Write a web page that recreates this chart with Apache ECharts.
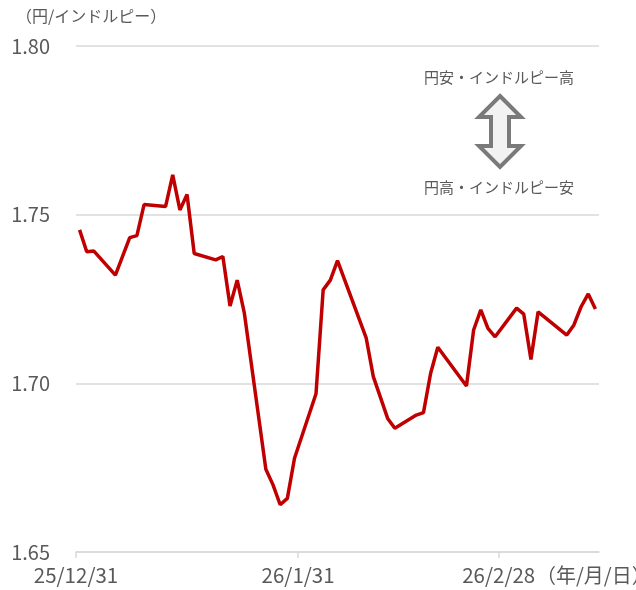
<!DOCTYPE html>
<html>
<head>
<meta charset="utf-8">
<script src="https://cdn.jsdelivr.net/npm/echarts@6/dist/echarts.min.js"></script>
<style>
  html, body { margin: 0; padding: 0; background: #fff; }
  #chart { width: 636px; height: 590px; }
</style>
</head>
<body>
<div id="chart"></div>
<script>
// 円/インドルピー 日次
const dates = [
  "2025/12/31", "2026/1/1", "2026/1/2", "2026/1/5", "2026/1/7", "2026/1/8", "2026/1/9",
  "2026/1/12", "2026/1/13", "2026/1/14", "2026/1/15", "2026/1/16",
  "2026/1/19", "2026/1/20", "2026/1/21", "2026/1/22", "2026/1/23",
  "2026/1/26", "2026/1/27", "2026/1/28", "2026/1/29", "2026/1/30",
  "2026/2/2", "2026/2/3", "2026/2/4", "2026/2/5",
  "2026/2/9", "2026/2/10", "2026/2/12", "2026/2/13",
  "2026/2/16", "2026/2/17", "2026/2/18", "2026/2/19",
  "2026/2/23", "2026/2/24", "2026/2/25", "2026/2/26", "2026/2/27",
  "2026/3/2", "2026/3/3", "2026/3/4", "2026/3/5",
  "2026/3/9", "2026/3/10", "2026/3/11", "2026/3/12", "2026/3/13"
];
const rates = [
  1.7455, 1.7390, 1.7392, 1.7321, 1.7432, 1.7438, 1.7530,
  1.7524, 1.7618, 1.7514, 1.7560, 1.7385,
  1.7366, 1.7376, 1.7229, 1.7306, 1.7208,
  1.6745, 1.6699, 1.6640, 1.6659, 1.6778,
  1.6969, 1.7277, 1.7306, 1.7364,
  1.7135, 1.7020, 1.6896, 1.6867,
  1.6906, 1.6913, 1.7030, 1.7107,
  1.6992, 1.7158, 1.7218, 1.7163, 1.7138,
  1.7223, 1.7205, 1.7071, 1.7212,
  1.7143, 1.7173, 1.7227, 1.7265, 1.7220
];
const xTickDates = ["2025/12/31", "2026/1/31", "2026/2/28"];
const xTickLabels = ["25/12/31", "26/1/31", "26/2/28"];
const xStart = "2025/12/31";
const xEnd = "2026/3/13";

const FONT = '"Noto Sans CJK JP", "Noto Sans", sans-serif';
const TEXT = "#595959";

// days since xStart
function dayNo(s) {
  const p = s.split("/").map(Number);
  const q = xStart.split("/").map(Number);
  return Math.round((Date.UTC(p[0], p[1] - 1, p[2]) - Date.UTC(q[0], q[1] - 1, q[2])) / 86400000);
}

// each day is one slot; points sit in the middle of their day
const tickDays = xTickDates.map(dayNo);
const seriesData = dates.map((d, i) => [dayNo(d) + 0.5, rates[i]]);

const chart = echarts.init(document.getElementById("chart"));
chart.setOption({
  animation: false,
  backgroundColor: "#fff",
  textStyle: { fontFamily: FONT },
  grid: { left: 76, right: 37, top: 46, bottom: 38, containLabel: false },
  xAxis: {
    type: "value",
    min: 0,
    max: dayNo(xEnd) + 1,
    axisLine: { lineStyle: { color: "#d9d9d9", width: 1.5 } },
    axisTick: {
      show: true,
      customValues: tickDays,
      length: 6,
      lineStyle: { color: "#d9d9d9", width: 1.5 }
    },
    axisLabel: {
      customValues: tickDays,
      margin: 13,
      color: TEXT,
      fontSize: 20.5,
      fontFamily: FONT,
      formatter: function (v) {
        const i = tickDays.indexOf(v);
        return i >= 0 ? xTickLabels[i] : "";
      }
    },
    splitLine: { show: false }
  },
  yAxis: {
    type: "value",
    min: 1.65,
    max: 1.8,
    interval: 0.05,
    axisLine: { show: false },
    axisTick: { show: false },
    axisLabel: {
      margin: 26,
      color: TEXT,
      fontSize: 20,
      fontFamily: FONT,
      formatter: v => v.toFixed(2)
    },
    splitLine: { lineStyle: { color: "#d9d9d9", width: 1.5 } }
  },
  series: [
    {
      type: "line",
      data: seriesData,
      showSymbol: false,
      symbol: "none",
      lineStyle: { color: "#c00000", width: 3.5 },
      itemStyle: { color: "#c00000" }
    }
  ],
  graphic: [
    {
      type: "text",
      left: 16,
      top: 8,
      style: { text: "（円/インドルピー）", fill: TEXT, font: "16px " + FONT }
    },
    {
      type: "text",
      left: 536,
      top: 565,
      style: { text: "（年/月/日）", fill: TEXT, font: "20px " + FONT }
    },
    {
      type: "text",
      x: 499,
      y: 77,
      style: {
        text: "円安・インドルピー高",
        fill: TEXT,
        font: "15px " + FONT,
        align: "center",
        verticalAlign: "middle"
      }
    },
    {
      type: "text",
      x: 499,
      y: 187,
      style: {
        text: "円高・インドルピー安",
        fill: TEXT,
        font: "15px " + FONT,
        align: "center",
        verticalAlign: "middle"
      }
    },
    {
      type: "polygon",
      shape: {
        points: [
          [500, 96], [521, 117], [509, 117], [509, 146], [521, 146],
          [500, 167], [479, 146], [491, 146], [491, 117], [479, 117]
        ]
      },
      style: { fill: "#f2f2f2", stroke: "#7a7a7a", lineWidth: 4, lineJoin: "miter" }
    }
  ]
});
</script>
</body>
</html>
